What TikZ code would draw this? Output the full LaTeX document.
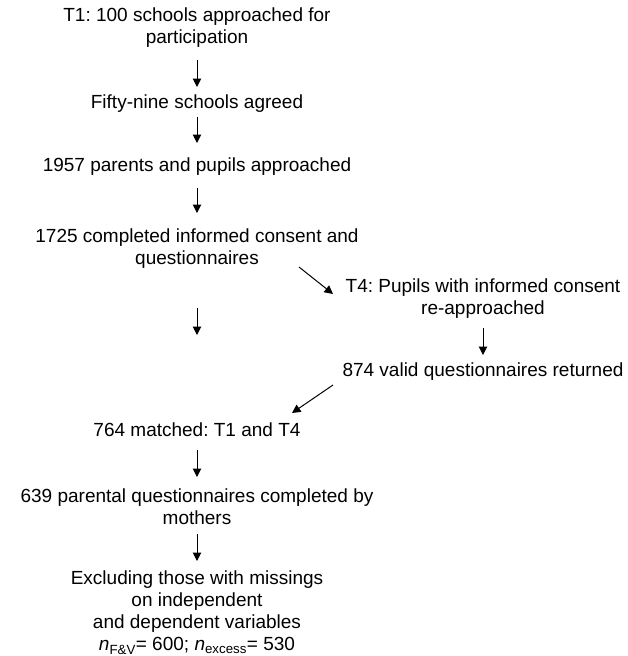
\documentclass[tikz,border=0pt]{standalone}
\usepackage{fontspec}
\setmainfont{Liberation Sans}
\usetikzlibrary{arrows.meta}
\frenchspacing

\tikzset{
	stage/.style={inner sep=0pt, align=center, anchor=north, font=\fontsize{19}{22}\selectfont},
	flow/.style={-{Triangle[length=8.5pt,width=8.5pt]}, line width=1pt},
}

\begin{document}
\begin{tikzpicture}[x=1pt,y=-1pt]
	%%%%% START %%%%%
	
	\useasboundingbox (0,0) rectangle (628,656);
	
	% left column
	\node[stage] (approached) at (197,7.9) {T1: 100 schools approached for\\participation};
	\node[stage] (agreed) at (197,94.9) {Fifty-nine schools agreed};
	\node[stage] (parents) at (197,157.9) {1957 parents and pupils approached};
	\node[stage] (consent) at (197,228.9) {1725 completed informed consent and\\questionnaires};
	\node[stage] (matched) at (197,422.9) {764 matched: T1 and T4};
	\node[stage] (mothers) at (197,488.4) {639 parental questionnaires completed by\\mothers};
	\node[stage] (excluding) at (197,570.9) {Excluding those with missings\\on independent\\and dependent variables\\\textit{n}\textsubscript{F\&V}= 600; \textit{n}\textsubscript{excess}= 530};
	
	% right column
	\node[stage] (reapproached) at (483,278.9) {T4: Pupils with informed consent\\re-approached};
	\node[stage] (returned) at (483,362.9) {874 valid questionnaires returned};
	
	\draw[flow, shorten <=11.5pt, shorten >=7.9pt] (approached) -- (agreed);
	\draw[flow, shorten <=3.5pt, shorten >=14.9pt] (agreed) -- (parents);
	\draw[flow, shorten <=11.5pt, shorten >=15.9pt] (parents) -- (consent);
	\draw[flow, shorten <=38.5pt, shorten >=87.9pt] (consent) -- (matched);
	\draw[flow, shorten <=8.5pt, shorten >=7.9pt] (reapproached) -- (returned);
	\draw[flow, shorten <=12.5pt, shorten >=11.4pt] (matched) -- (mothers);
	\draw[flow, shorten <=9.5pt, shorten >=9.9pt] (mothers) -- (excluding);
	
	% side arrows
	\coordinate (outA) at (299,267);
	\coordinate (outB) at (333,294);
	\coordinate (backA) at (333,385);
	\coordinate (backB) at (292,413);
	\draw[flow] (outA) -- (outB);
	\draw[flow] (backA) -- (backB);
	
	%%%%% END %%%%%
\end{tikzpicture}
\end{document}
